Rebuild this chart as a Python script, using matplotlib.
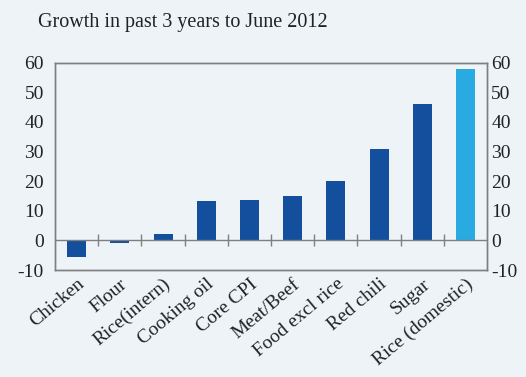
import numpy as np
import matplotlib
matplotlib.use('Agg')
from matplotlib import pyplot as plt

categories = ['Chicken', 'Flour', 'Rice(intern)', 'Cooking oil', 'Core CPI',
              'Meat/Beef', 'Food excl rice', 'Red chili', 'Sugar', 'Rice (domestic)']
growth = [-5.5, -1.0, 2.1, 13.2, 13.8, 14.9, 19.9, 31.0, 46.0, 57.8]
yticks = [-10, 0, 10, 20, 30, 40, 50, 60]

bg = '#eef3f8'
dark = '#134f9c'
light = '#29abe2'
grey = '#7f7f7f'

plt.rcParams['font.family'] = ['Liberation Serif', 'DejaVu Serif']

fig = plt.figure(figsize=(5.26, 3.77), dpi=100, facecolor=bg)
ax = fig.add_axes([0.1046, 0.2838, 0.8214, 0.5499], facecolor=bg)

x = np.arange(len(categories))
colors = [dark] * (len(categories) - 1) + [light]
ax.bar(x, growth, width=0.44, color=colors, zorder=2)

ax.set_xlim(-0.5, len(categories) - 0.5)
ax.set_ylim(-10, 60)
ax.set_yticks(yticks)
ax.set_yticklabels([str(t) for t in yticks])
ax.tick_params(axis='y', length=0, labelsize=14, pad=8, colors='#222222')

# same scale on the right
ax2 = ax.twinx()
ax2.set_ylim(-10, 60)
ax2.set_yticks(yticks)
ax2.set_yticklabels([str(t) for t in yticks])
ax2.tick_params(axis='y', length=0, labelsize=14, pad=3, colors='#222222')

# zero line with category separators
ax.axhline(0, color=grey, lw=1, zorder=3)
ax.plot(x[:-1] + 0.5, [0] * (len(x) - 1), ls='none', marker='|',
        ms=8, mew=1, color=grey, zorder=3)

ax.set_xticks(x)
ax.set_xticklabels(categories, rotation=40, ha='right', rotation_mode='anchor',
                   fontsize=14, color='#222222')
ax.tick_params(axis='x', length=0, pad=4)

for a in (ax, ax2):
    for s in a.spines.values():
        s.set_color(grey)
        s.set_linewidth(1)

fig.text(0.072, 0.965, 'Growth in past 3 years to June 2012', fontsize=14.5,
         color='#222222', va='top', ha='left')

fig.savefig('out.png', dpi=100, facecolor=bg)
